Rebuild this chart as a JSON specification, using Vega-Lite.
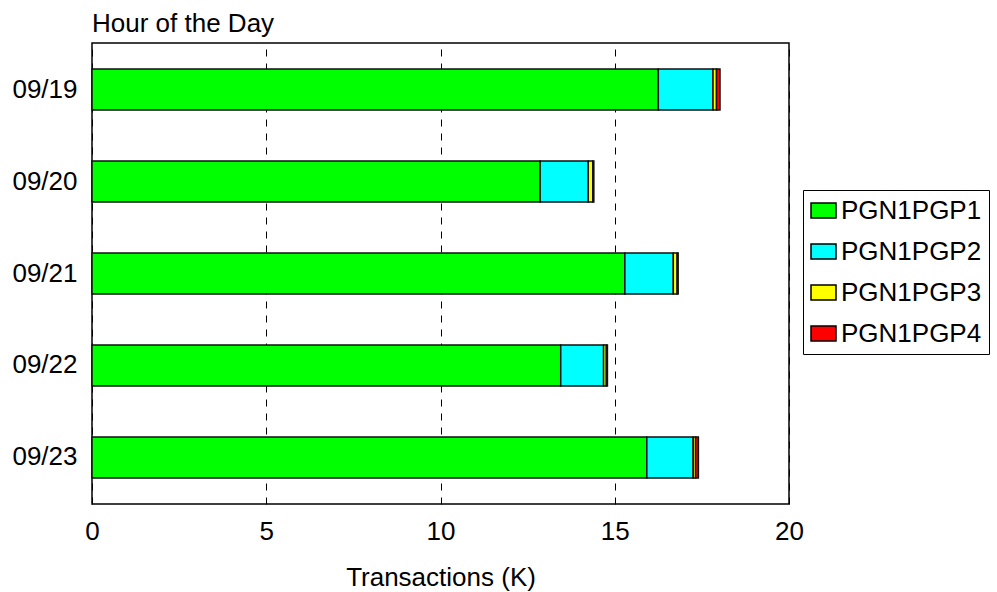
{
  "$schema": "https://vega.github.io/schema/vega-lite/v6.json",
  "autosize": "none",
  "width": 697,
  "height": 461,
  "padding": {"left": 92, "top": 43, "right": 208, "bottom": 88},
  "background": "white",
  "title": {
    "text": "Hour of the Day",
    "anchor": "start",
    "frame": "group",
    "font": "Liberation Sans",
    "fontSize": 26,
    "fontWeight": "normal",
    "color": "black",
    "offset": 6
  },
  "config": {
    "view": {"stroke": "black", "strokeWidth": 1.5},
    "font": "Liberation Sans",
    "legend": {"strokeColor": "black", "fillColor": "white"}
  },
  "data": {
    "values": [
      {"date": "09/19", "series": "PGN1PGP1", "value": 16.25},
      {"date": "09/19", "series": "PGN1PGP2", "value": 1.57},
      {"date": "09/19", "series": "PGN1PGP3", "value": 0.1},
      {"date": "09/19", "series": "PGN1PGP4", "value": 0.1},
      {"date": "09/20", "series": "PGN1PGP1", "value": 12.86},
      {"date": "09/20", "series": "PGN1PGP2", "value": 1.38},
      {"date": "09/20", "series": "PGN1PGP3", "value": 0.13},
      {"date": "09/20", "series": "PGN1PGP4", "value": 0.03},
      {"date": "09/21", "series": "PGN1PGP1", "value": 15.29},
      {"date": "09/21", "series": "PGN1PGP2", "value": 1.39},
      {"date": "09/21", "series": "PGN1PGP3", "value": 0.11},
      {"date": "09/21", "series": "PGN1PGP4", "value": 0.03},
      {"date": "09/22", "series": "PGN1PGP1", "value": 13.45},
      {"date": "09/22", "series": "PGN1PGP2", "value": 1.23},
      {"date": "09/22", "series": "PGN1PGP3", "value": 0.08},
      {"date": "09/22", "series": "PGN1PGP4", "value": 0.03},
      {"date": "09/23", "series": "PGN1PGP1", "value": 15.92},
      {"date": "09/23", "series": "PGN1PGP2", "value": 1.33},
      {"date": "09/23", "series": "PGN1PGP3", "value": 0.07},
      {"date": "09/23", "series": "PGN1PGP4", "value": 0.08}
    ]
  },
  "mark": {"type": "bar", "stroke": "#111", "strokeWidth": 1.5},
  "encoding": {
    "y": {
      "field": "date",
      "type": "nominal",
      "sort": null,
      "scale": {"paddingInner": 0.554, "paddingOuter": 0.283},
      "axis": {
        "title": null,
        "domain": false,
        "ticks": false,
        "labelPadding": 15,
        "labelFontSize": 26,
        "labelColor": "black",
        "labelFont": "Liberation Sans"
      }
    },
    "x": {
      "field": "value",
      "type": "quantitative",
      "stack": "zero",
      "scale": {"domain": [0, 20], "nice": false},
      "axis": {
        "title": "Transactions (K)",
        "titleFontSize": 26,
        "titleFontWeight": "normal",
        "titleColor": "black",
        "titleFont": "Liberation Sans",
        "titlePadding": 20,
        "values": [0, 5, 10, 15, 20],
        "domain": false,
        "ticks": false,
        "labelFlush": false,
        "labelPadding": 14,
        "labelFontSize": 26,
        "labelColor": "black",
        "labelFont": "Liberation Sans",
        "grid": true,
        "gridColor": "black",
        "gridDash": [7, 7],
        "gridWidth": 1,
        "gridOpacity": 1
      }
    },
    "color": {
      "field": "series",
      "type": "nominal",
      "scale": {
        "domain": ["PGN1PGP1", "PGN1PGP2", "PGN1PGP3", "PGN1PGP4"],
        "range": ["#00ff00", "#00ffff", "#ffff00", "#ff0000"]
      },
      "legend": {
        "title": null,
        "orient": "none",
        "legendX": 711,
        "legendY": 147,
        "padding": 7,
        "strokeColor": "black",
        "fillColor": "white",
        "symbolType": "M-1,-0.6H1V0.6H-1Z",
        "symbolSize": 625,
        "symbolStrokeColor": "black",
        "symbolStrokeWidth": 1.5,
        "symbolOpacity": 1,
        "labelFontSize": 26,
        "labelColor": "black",
        "labelFont": "Liberation Sans",
        "labelOffset": 4,
        "rowPadding": 14,
        "labelLimit": 300
      }
    },
    "order": {"field": "series", "sort": "ascending"}
  }
}
